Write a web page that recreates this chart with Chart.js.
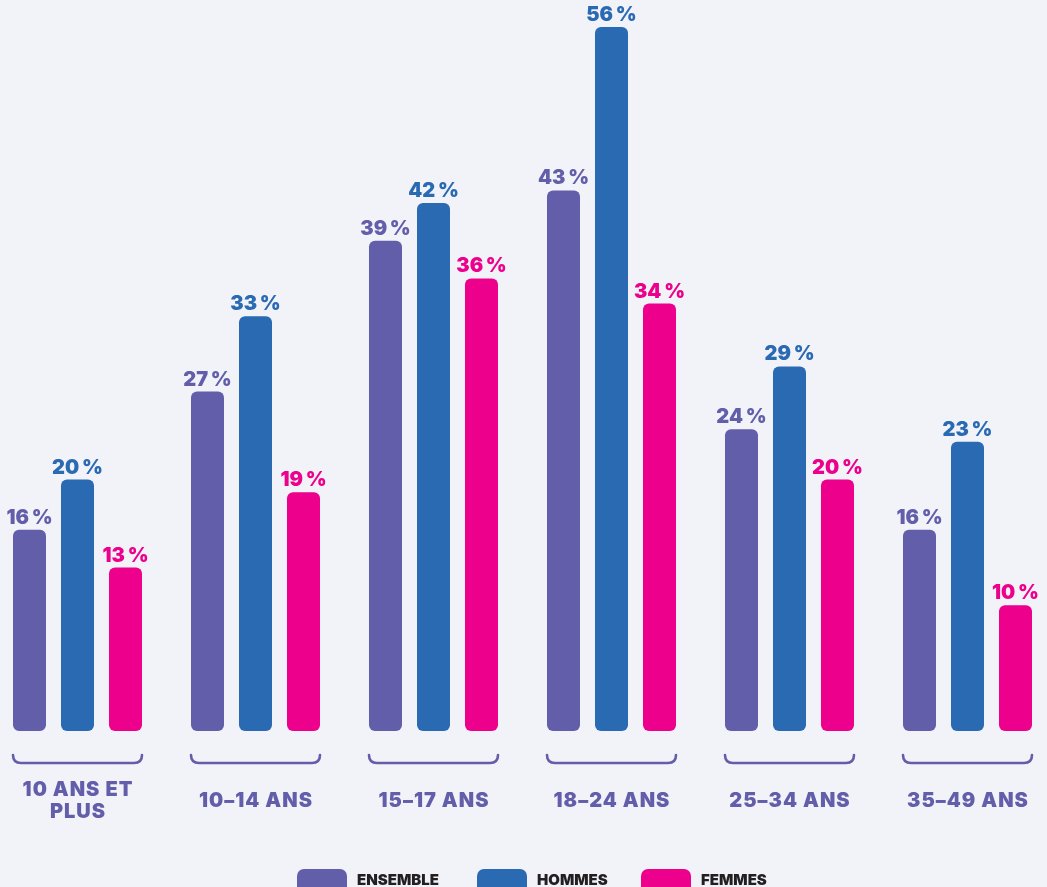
<!DOCTYPE html>
<html>
<head>
<meta charset="utf-8">
<script src="https://cdn.jsdelivr.net/npm/chart.js@4.4.0/dist/chart.umd.min.js"></script>
<style>
  body { margin: 0; background: #F2F3F9; }
  #wrap { width: 1047px; height: 887px; position: relative; }
</style>
</head>
<body>
<div id="wrap"><canvas id="graphCanvas"></canvas></div>
<script>
// data
var ageGroups = [['10 ANS ET', 'PLUS'], '10\u201314 ANS', '15\u201317 ANS', '18\u201324 ANS', '25\u201334 ANS', '35\u201349 ANS'];
var ensemble = [16, 27, 39, 43, 24, 16];
var hommes = [20, 33, 42, 56, 29, 23];
var femmes = [13, 19, 36, 34, 20, 10];
var seriesNames = ['ENSEMBLE', 'HOMMES', 'FEMMES'];

var purple = '#635EAA';
var blue = '#2A6AB3';
var pink = '#EC008C';
var legendX = [297, 477, 641];

var labelsPlugin = {
    id: 'labelsPlugin',
    afterDatasetsDraw: function (chart) {
        var ctx = chart.ctx;
        ctx.save();
        // value labels above every bar
        ctx.font = '900 20px Inter';
        ctx.textAlign = 'center';
        ctx.textBaseline = 'alphabetic';
        chart.data.datasets.forEach(function (ds, d) {
            var meta = chart.getDatasetMeta(d);
            meta.data.forEach(function (bar, i) {
                ctx.fillStyle = ds.backgroundColor;
                ctx.fillText(ds.data[i] + '\u202F%', bar.x, bar.y - 6);
            });
        });

        // brackets and category names
        var first = chart.getDatasetMeta(0).data;
        var last = chart.getDatasetMeta(2).data;
        ctx.strokeStyle = purple;
        ctx.lineWidth = 2.6;
        ctx.lineCap = 'round';
        ctx.letterSpacing = '1px';
        for (var i = 0; i < ageGroups.length; i++) {
            var x1 = first[i].x - first[i].width / 2;
            var x2 = last[i].x + last[i].width / 2;
            var yb = 763, yt = 755, r = 8;
            ctx.beginPath();
            ctx.moveTo(x1, yt);
            ctx.quadraticCurveTo(x1, yb, x1 + r, yb);
            ctx.lineTo(x2 - r, yb);
            ctx.quadraticCurveTo(x2, yb, x2, yt);
            ctx.stroke();

            var cx = (x1 + x2) / 2 + 0.5;
            ctx.fillStyle = purple;
            ctx.font = '900 20px Inter';
            ctx.textBaseline = 'middle';
            var lbl = ageGroups[i];
            if (Array.isArray(lbl)) {
                ctx.fillText(lbl[0], cx, 790);
                ctx.fillText(lbl[1], cx, 812);
            } else {
                ctx.fillText(lbl, cx, 801);
            }
        }
        ctx.letterSpacing = '0px';

        // legend
        ctx.textAlign = 'left';
        ctx.font = '900 15px Inter';
        chart.data.datasets.forEach(function (ds, d) {
            ctx.fillStyle = ds.backgroundColor;
            ctx.beginPath();
            ctx.roundRect(legendX[d], 869, 50, 26, 7);
            ctx.fill();
            ctx.fillStyle = '#231F20';
            ctx.fillText(seriesNames[d], legendX[d] + 60, 880);
        });
        ctx.restore();
    }
};

var chartdata = {
    labels: ageGroups,
    datasets: [
        { label: 'Ensemble', data: ensemble, backgroundColor: purple },
        { label: 'Hommes', data: hommes, backgroundColor: blue },
        { label: 'Femmes', data: femmes, backgroundColor: pink }
    ]
};

var graphTarget = document.getElementById('graphCanvas');
var barGraph = new Chart(graphTarget, {
    type: 'bar',
    data: chartdata,
    plugins: [labelsPlugin],
    options: {
        responsive: true,
        maintainAspectRatio: false,
        animation: false,
        layout: { padding: { left: 77.5, right: 79.5, top: 27, bottom: 156 } },
        datasets: {
            bar: {
                clip: false,
                categoryPercentage: 0.809,
                barPercentage: 0.6875,
                borderRadius: 6,
                borderSkipped: false
            }
        },
        scales: {
            x: { display: false, offset: false },
            y: { display: false, min: 0, max: 56 }
        },
        plugins: {
            legend: { display: false },
            tooltip: { enabled: false }
        }
    }
});
</script>
</body>
</html>
